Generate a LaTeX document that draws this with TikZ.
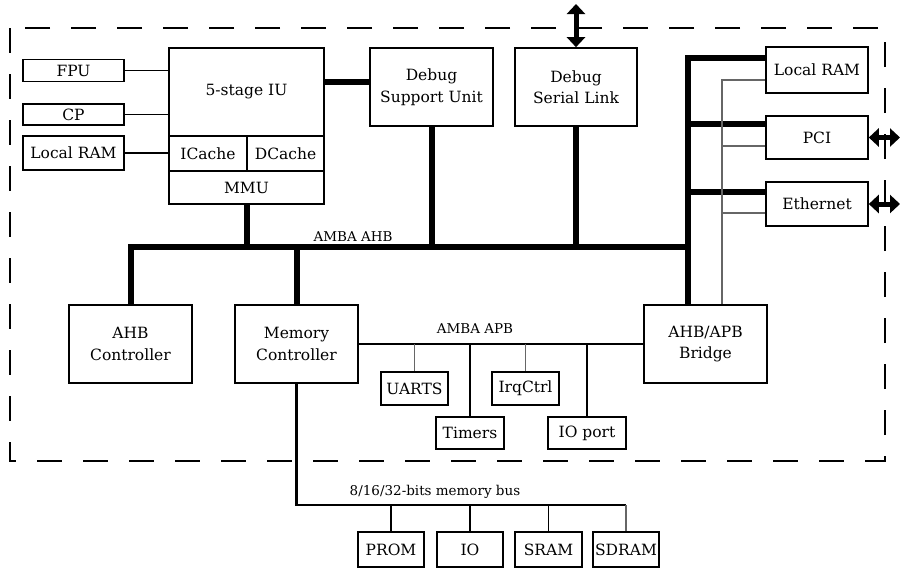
\documentclass[tikz,border=0pt]{standalone}
\usepackage{fontspec}
\setmainfont{DejaVu Serif}
\usetikzlibrary{arrows.meta,calc}
\tikzset{
  box/.style={draw, line width=1.6pt, inner sep=0pt, align=center,
    font=\fontsize{15.5}{21.5}\selectfont},
  lbl/.style={inner sep=0pt, font=\fontsize{13.5}{15}\selectfont},
  bus/.style={line width=6pt},
  thinline/.style={line width=1.7pt},
  apbline/.style={line width=2.8pt},
  grayline/.style={line width=1.7pt, draw=black!60},
  frame/.style={line width=1.6pt, dash pattern=on 25pt off 21pt},
  dbl/.style={line width=5pt, {Triangle[width=18pt,length=10pt]}-{Triangle[width=18pt,length=10pt]}}
}
\begin{document}
\begin{tikzpicture}[x=1pt,y=-1pt]
\useasboundingbox (0,0) rectangle (900,568);
% frame
\draw[frame] (10,28) rectangle (885,461);
% left small boxes
\node[box, minimum width=101pt, minimum height=22pt] (fpu) at (73.5,70.5) {FPU};
\node[box, minimum width=101pt, minimum height=21pt] (cp) at (73.5,114.5) {CP};
\node[box, minimum width=101pt, minimum height=34pt] (lram1) at (73.5,153) {Local RAM};
% IU
\node[box, minimum width=155pt, minimum height=88pt] (iu) at (246.5,92) {5-stage IU};
\node[box, minimum width=78pt, minimum height=35pt] (icache) at (208,153.5) {ICache};
\node[box, minimum width=77pt, minimum height=35pt] (dcache) at (285.5,153.5) {DCache};
\node[box, minimum width=155pt, minimum height=33pt] (mmu) at (246.5,187.5) {MMU};
% debug
\node[box, minimum width=123pt, minimum height=78pt] (dsu) at (431.5,87) {Debug\\Support Unit};
\node[box, minimum width=122pt, minimum height=78pt] (dsl) at (576,87) {Debug\\Serial Link};
% right
\node[box, minimum width=102pt, minimum height=46pt] (lram2) at (817,70) {Local RAM};
\node[box, minimum width=102pt, minimum height=43pt] (pci) at (817,137.5) {PCI};
\node[box, minimum width=102pt, minimum height=44pt] (eth) at (817,204) {Ethernet};
% controllers
\node[box, minimum width=123pt, minimum height=78pt] (ahbc) at (130.5,344) {AHB\\Controller};
\node[box, minimum width=123pt, minimum height=78pt] (memc) at (296.5,344) {Memory\\Controller};
\node[box, minimum width=123pt, minimum height=78pt] (bridge) at (705.5,344) {AHB/APB\\Bridge};
% APB peripherals
\node[box, minimum width=67pt, minimum height=33pt] (uarts) at (414.5,388.5) {UARTS};
\node[box, minimum width=68pt, minimum height=32pt] (timers) at (470,433) {Timers};
\node[box, minimum width=67pt, minimum height=33pt] (irq) at (525.5,388.5) {IrqCtrl};
\node[box, minimum width=78pt, minimum height=32pt] (ioport) at (587,433) {IO port};
% memory devices
\node[box, minimum width=66pt, minimum height=35pt] (prom) at (391,549.5) {PROM};
\node[box, minimum width=66pt, minimum height=35pt] (io) at (470,549.5) {IO};
\node[box, minimum width=67pt, minimum height=35pt] (sram) at (548.5,549.5) {SRAM};
\node[box, minimum width=66pt, minimum height=35pt] (sdram) at (626,549.5) {SDRAM};
% labels
\node[lbl] (ahblbl) at (353,237) {AMBA AHB};
\node[lbl] (apblbl) at (475,329) {AMBA APB};
\node[lbl] (memlbl) at (435,492) {8/16/32-bits memory bus};
% coordinates
\coordinate (spine) at (688,247);
\coordinate (thinx) at (722,247);
\coordinate (mbus) at (297,505);
\coordinate (topend) at (576,4);
\coordinate (pciout) at (900,137.5);
\coordinate (ethout) at (900,204);
% IU connections
\draw[thinline] (fpu.east) -- (fpu.east -| iu.west);
\draw[thinline] (cp.east) -- (cp.east -| iu.west);
\draw[thinline] (lram1.east) -- (lram1.east -| icache.west);
\draw[bus] ([yshift=5pt]dsu.west) -- ([yshift=5pt]dsu.west -| iu.east);
% AHB bus
\draw[bus] (ahbc.north) |- (spine);
\draw[bus] (mmu.south) -- (mmu.south |- spine);
\draw[bus] (memc.north) -- (memc.north |- spine);
\draw[bus] (dsu.south) -- (dsu.south |- spine);
\draw[bus] (dsl.south) -- (dsl.south |- spine);
\draw[bus] ([yshift=-12pt]lram2.north west) -| (spine |- bridge.north);
\draw[bus] ([yshift=-9pt]pci.north west) -- ([yshift=-9pt]pci.north west -| spine);
\draw[bus] ([yshift=-11pt]eth.north west) -- ([yshift=-11pt]eth.north west -| spine);
% thin gray spine
\draw[grayline] ([yshift=-34pt]lram2.north west) -| (thinx |- bridge.north);
\draw[grayline] ([yshift=-31pt]pci.north west) -- ([yshift=-31pt]pci.north west -| thinx);
\draw[grayline] ([yshift=-32pt]eth.north west) -- ([yshift=-32pt]eth.north west -| thinx);
% APB
\draw[apbline] (memc.east) -- (bridge.west);
\draw[grayline] (uarts.north) -- (uarts.north |- memc.east);
\draw[thinline] (timers.north) -- (timers.north |- memc.east);
\draw[grayline] (irq.north) -- (irq.north |- memc.east);
\draw[thinline] (ioport.north) -- (ioport.north |- memc.east);
% memory bus
\draw[apbline, line width=2.4pt] (memc.south) |- (sdram.north |- mbus);
\draw[grayline] (sdram.north) -- (sdram.north |- mbus);
\draw[thinline] (prom.north) -- (prom.north |- mbus);
\draw[thinline] (io.north) -- (io.north |- mbus);
\draw[thinline] (sram.north) -- (sram.north |- mbus);
% external arrows
\draw[dbl] (dsl.north) -- (topend);
\draw[dbl] (pci.east) -- (pciout);
\draw[dbl] (eth.east) -- (ethout);
\end{tikzpicture}
\end{document}
